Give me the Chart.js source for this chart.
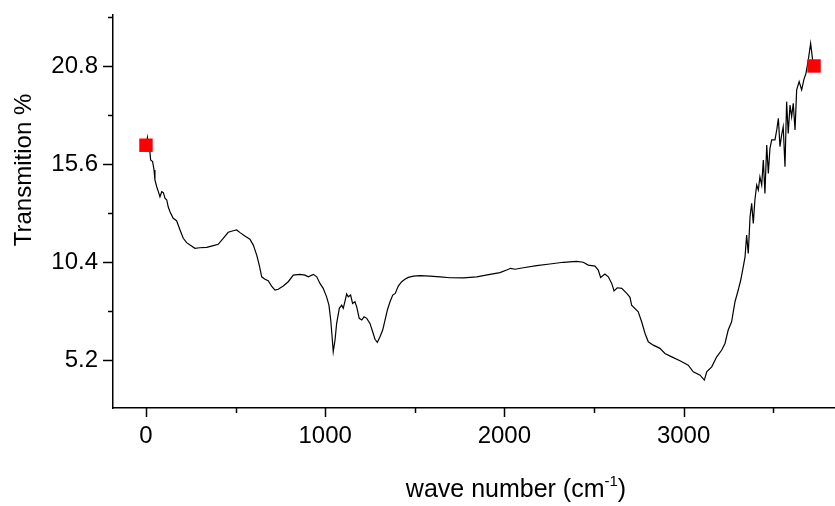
<!DOCTYPE html>
<html>
<head>
<meta charset="utf-8">
<script src="https://cdn.jsdelivr.net/npm/chart.js@4.4.0/dist/chart.umd.min.js"></script>
<style>
  html, body { margin: 0; padding: 0; background: #fff; }
</style>
</head>
<body>
<canvas id="irChart" width="835" height="506"></canvas>
<script>
// wave number (cm-1)
const waveNumbers = [
  0, 8, 14, 22, 26, 37, 45, 50, 60, 69,
  78, 88, 97, 106, 116, 124, 134, 152, 171, 190,
  208, 227, 246, 273, 301, 339, 376, 403, 431, 459,
  487, 506, 525, 552, 580, 599, 618, 632, 646, 664,
  682, 701, 720, 738, 766, 794, 822, 859, 887, 906,
  934, 953, 971, 989, 1008, 1021, 1031, 1040, 1045, 1055,
  1064, 1079, 1092, 1101, 1110, 1120, 1129, 1142, 1153, 1166,
  1176, 1190, 1204, 1217, 1232, 1250, 1265, 1278, 1291, 1306,
  1321, 1334, 1347, 1362, 1377, 1391, 1408, 1427, 1445, 1464,
  1492, 1529, 1585, 1641, 1696, 1771, 1845, 1920, 1975, 2013,
  2035, 2059, 2106, 2180, 2254, 2329, 2403, 2440, 2468, 2506,
  2524, 2537, 2561, 2580, 2599, 2612, 2630, 2655, 2683, 2701,
  2710, 2747, 2766, 2785, 2803, 2831, 2868, 2896, 2934, 2980,
  3026, 3054, 3092, 3116, 3129, 3157, 3185, 3213, 3231, 3249,
  3268, 3287, 3305, 3319, 3333, 3343, 3352, 3361, 3371, 3380,
  3389, 3398, 3408, 3417, 3426, 3436, 3445, 3454, 3464, 3473,
  3482, 3492, 3510, 3520, 3529, 3538, 3547, 3556, 3566, 3575,
  3584, 3594, 3603, 3612, 3622, 3631, 3645, 3659, 3672, 3683,
  3696, 3709, 3720, 3728
];

// transmission %
const transmission = [
  16.6, 17.0, 16.3, 16.26, 15.82, 15.73, 15.29, 14.76, 14.40, 14.14,
  13.87, 14.14, 14.09, 13.79, 13.70, 13.34, 13.08, 12.73, 12.60, 12.11,
  11.67, 11.44, 11.31, 11.14, 11.17, 11.19, 11.28, 11.35, 11.67, 11.99,
  12.07, 12.11, 11.97, 11.79, 11.62, 11.31, 10.78, 10.25, 9.63, 9.50,
  9.42, 9.14, 8.93, 8.97, 9.14, 9.37, 9.72, 9.76, 9.72, 9.63,
  9.76, 9.63, 9.28, 9.02, 8.57, 8.13, 7.34, 6.28, 5.66, 6.28,
  7.16, 7.96, 8.13, 7.96, 8.31, 8.72, 8.57, 8.66, 8.22, 8.31,
  8.04, 7.43, 7.34, 7.51, 7.43, 7.16, 6.72, 6.32, 6.16, 6.45,
  6.81, 7.34, 7.87, 8.31, 8.66, 8.75, 9.14, 9.37, 9.50, 9.60,
  9.67, 9.69, 9.67, 9.63, 9.58, 9.57, 9.63, 9.76, 9.85, 9.99,
  10.08, 10.03, 10.11, 10.22, 10.31, 10.40, 10.45, 10.40, 10.25, 10.20,
  9.99, 9.60, 9.78, 9.63, 9.28, 8.88, 9.05, 9.02, 8.75, 8.54,
  8.13, 7.78, 7.25, 6.63, 6.19, 6.01, 5.84, 5.57, 5.39, 5.18,
  4.95, 4.60, 4.42, 4.16, 4.60, 4.86, 5.39, 5.75, 6.10, 6.81,
  7.25, 8.31, 8.93, 9.46, 10.16, 10.69, 11.84, 10.87, 12.81, 13.52,
  12.46, 13.70, 14.49, 14.23, 14.93, 14.49, 15.82, 14.05, 16.61, 15.11,
  16.44, 16.88, 16.88, 17.41, 18.03, 16.52, 17.14, 17.58, 15.46, 18.91,
  17.23, 18.73, 18.11, 18.82, 17.41, 19.53, 19.97, 19.53, 20.10, 20.41,
  21.12, 22.00, 21.12, 20.8
];

const xTicks = [0, 500, 1000, 1500, 2000, 2500, 3000, 3500];
const xLabels = [0, 1000, 2000, 3000];
const yTicks = [5.2, 7.8, 10.4, 13, 15.6, 18.2, 20.8, 23.4];
const yLabels = [5.2, 10.4, 15.6, 20.8];

const spectrum = waveNumbers.map((x, i) => ({ x: x, y: transmission[i] }));
const endPoints = [spectrum[0], spectrum[spectrum.length - 1]];

const fontName = "'Liberation Sans', Arial, sans-serif";

// draws the outward tick marks and both axis titles
const axisDecor = {
  id: 'axisDecor',
  afterDraw(chart) {
    const { ctx, chartArea, scales } = chart;
    ctx.save();
    ctx.strokeStyle = '#000';
    ctx.lineWidth = 1.5;
    scales.x.ticks.forEach(t => {
      const px = Math.round(scales.x.getPixelForValue(t.value)) + 0.5;
      const len = xLabels.includes(t.value) ? 9 : 5;
      ctx.beginPath();
      ctx.moveTo(px, chartArea.bottom);
      ctx.lineTo(px, chartArea.bottom + len);
      ctx.stroke();
    });
    scales.y.ticks.forEach(t => {
      const py = Math.round(scales.y.getPixelForValue(t.value)) + 0.5;
      const len = yLabels.includes(t.value) ? 10 : 5;
      ctx.beginPath();
      ctx.moveTo(chartArea.left, py);
      ctx.lineTo(chartArea.left - len, py);
      ctx.stroke();
    });

    ctx.fillStyle = '#000';
    ctx.textBaseline = 'alphabetic';

    // y title
    ctx.save();
    ctx.translate(31, 170);
    ctx.rotate(-Math.PI / 2);
    ctx.font = '24px ' + fontName;
    ctx.textAlign = 'center';
    ctx.fillText('Transmition %', 0, 0);
    ctx.restore();

    // x title with superscript
    const main = 'wave number (cm';
    const sup = '-1';
    ctx.font = '25px ' + fontName;
    const wMain = ctx.measureText(main).width;
    const wClose = ctx.measureText(')').width;
    ctx.font = '15px ' + fontName;
    const wSup = ctx.measureText(sup).width;
    const total = wMain + wSup + wClose;
    const x0 = 516 - total / 2;
    const base = 497;
    ctx.textAlign = 'left';
    ctx.font = '25px ' + fontName;
    ctx.fillText(main, x0, base);
    ctx.font = '15px ' + fontName;
    ctx.fillText(sup, x0 + wMain, base - 11);
    ctx.font = '25px ' + fontName;
    ctx.fillText(')', x0 + wMain + wSup, base);
    ctx.restore();
  }
};

new Chart(document.getElementById('irChart'), {
  type: 'line',
  data: {
    datasets: [
      {
        label: 'ends',
        data: endPoints,
        showLine: false,
        pointStyle: 'rect',
        pointRadius: 9.5,
        pointBackgroundColor: '#ff0000',
        pointBorderColor: '#ff0000',
        pointBorderWidth: 0
      },
      {
        label: 'spectrum',
        data: spectrum,
        borderColor: '#000',
        borderWidth: 1.2,
        pointRadius: 0,
        tension: 0,
        fill: false
      }
    ]
  },
  options: {
    responsive: false,
    animation: false,
    devicePixelRatio: 1,
    layout: { autoPadding: false, padding: { top: 15, right: 0, left: 0, bottom: 0 } },
    plugins: {
      legend: { display: false },
      tooltip: { enabled: false }
    },
    scales: {
      x: {
        type: 'linear',
        min: -184,
        max: 3845,
        afterBuildTicks: s => { s.ticks = xTicks.map(v => ({ value: v })); },
        afterFit: s => { s.height = 98; s.paddingLeft = 0; s.paddingRight = 0; },
        ticks: {
          autoSkip: false,
          maxRotation: 0,
          padding: 14,
          color: '#000',
          font: { family: fontName, size: 24 },
          callback: v => xLabels.includes(v) ? String(v) : ''
        },
        grid: { drawOnChartArea: false, drawTicks: false },
        border: { color: '#000', width: 1.5 }
      },
      y: {
        type: 'linear',
        min: 2.68,
        max: 23.5,
        afterBuildTicks: s => { s.ticks = yTicks.map(v => ({ value: v })); },
        afterFit: s => { s.width = 113; s.paddingTop = 0; s.paddingBottom = 0; },
        ticks: {
          autoSkip: false,
          padding: 15,
          color: '#000',
          font: { family: fontName, size: 24 },
          callback: v => yLabels.includes(v) ? v.toFixed(1) : ''
        },
        grid: { drawOnChartArea: false, drawTicks: false },
        border: { color: '#000', width: 1.5 }
      }
    }
  },
  plugins: [axisDecor]
});
</script>
</body>
</html>
